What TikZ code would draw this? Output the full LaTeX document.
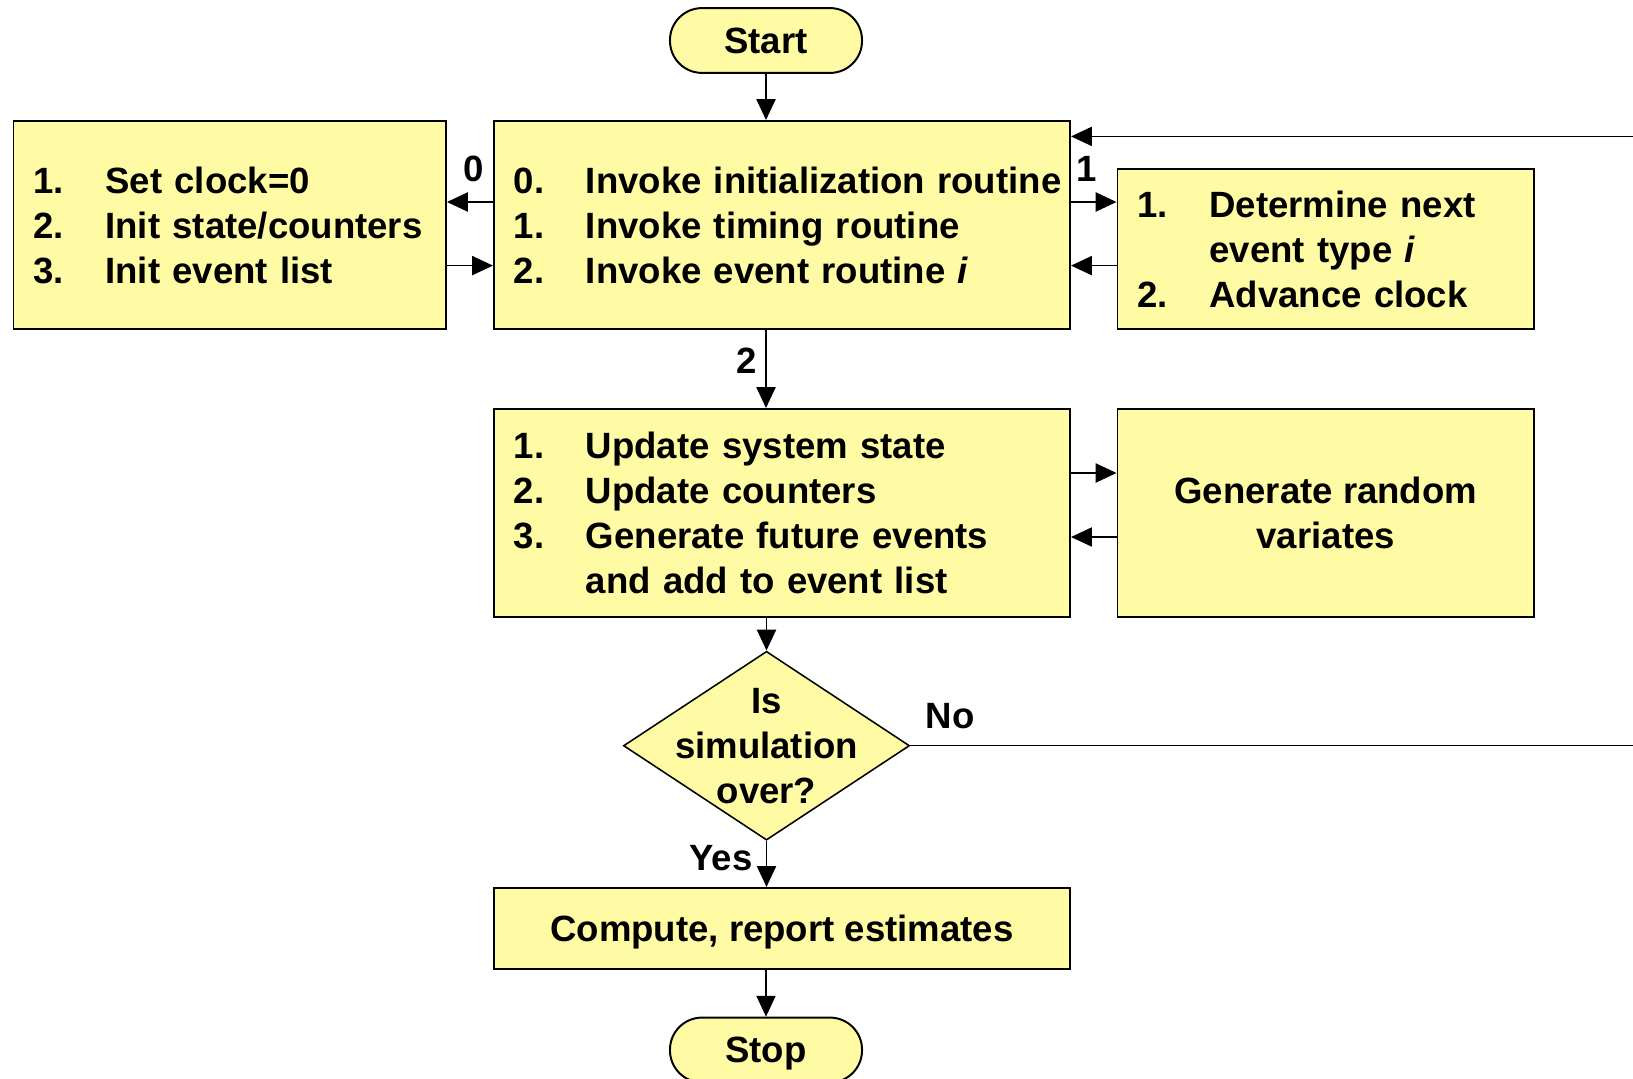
\documentclass[tikz,border=0pt]{standalone}
\usepackage{fontspec}
\setmainfont{Liberation Sans}
\usetikzlibrary{arrows.meta,shapes.geometric}
\definecolor{boxyellow}{RGB}{255,251,165}
\newcommand\itm[2]{\makebox[1.8cm][l]{#1}\mbox{#2}}

\begin{document}
\begin{tikzpicture}[x=0.025cm,y=-0.025cm,
  font=\fontsize{26}{32}\selectfont\bfseries,
  box/.style={draw,line width=1.4pt,fill=boxyellow,inner xsep=0.5cm,inner ysep=0pt},
  terminal/.style={box,rounded corners=0.8cm,minimum width=4.8cm,minimum height=1.62cm},
  decision/.style={draw,line width=1.1pt,fill=boxyellow,diamond,inner sep=0pt,minimum width=7.15cm,minimum height=4.72cm},
  arr/.style={line width=0.9pt,-{Triangle[length=0.52cm,width=0.48cm]}},
  line/.style={line width=0.9pt}]
\useasboundingbox (0,0) rectangle (1633,1079);

% boxes
\node[terminal] (start) at (766,40.5) {Start};
\node[box,align=left,text width=9.81cm,minimum width=10.81cm,minimum height=5.2cm] (init) at (229.75,225)
  {\itm{1.}{Set clock=0}\\\itm{2.}{Init state/counters}\\\itm{3.}{Init event list}};
\node[box,align=left,text width=13.4cm,minimum width=14.4cm,minimum height=5.2cm] (main) at (782,225)
  {\itm{0.}{Invoke initialization routine}\\\itm{1.}{Invoke timing routine}\\\itm{2.}{Invoke event routine \textit{i}}};
\node[box,align=left,text width=9.41cm,minimum width=10.41cm,minimum height=4cm] (timing) at (1325.75,249)
  {\itm{1.}{Determine next}\\\hspace*{1.8cm}event type \textit{i}\\\itm{2.}{Advance clock}};
\node[box,align=left,text width=13.4cm,minimum width=14.4cm,minimum height=5.2cm] (update) at (782,513)
  {\itm{1.}{Update system state}\\\itm{2.}{Update counters}\\\itm{3.}{Generate future events}\\\hspace*{1.8cm}and add to event list};
\node[box,align=center,minimum width=10.41cm,minimum height=5.2cm] (random) at (1325.75,513)
  {Generate random\\variates};
\node[decision] (over) at (766.5,745.7) {};
\node[align=center] (overtext) at (over) {Is\\simulation\\over?};
\node[box,text depth=0pt,minimum width=14.4cm,minimum height=2.03cm] (compute) at (782,928.5) {Compute, report estimates};
\node[terminal,text depth=0pt] (stop) at (766,1050) {Stop};

% loop ends at the right edge
\coordinate (loopin) at (1633,136.4);
\coordinate (loopout) at (1633,745.7);

% connectors
\draw[arr] (start) -- (start |- main.north);
\draw[arr] (main.west |- 0,202) -- (init.east |- 0,202);
\draw[arr] (init.east |- 0,265.6) -- (main.west |- 0,265.6);
\draw[arr] (main.east |- 0,202) -- (timing.west |- 0,202);
\draw[arr] (timing.west |- 0,265.6) -- (main.east |- 0,265.6);
\draw[arr] (loopin) -- (main.east |- loopin);
\draw[arr] (main.south -| start) -- (update.north -| start);
\draw[arr] (update.east |- 0,473) -- (random.west |- 0,473);
\draw[arr] (random.west |- 0,537) -- (update.east |- 0,537);
\draw[arr] (update.south -| over) -- (over.north);
\draw[line] (over.east) -- (loopout);
\draw[arr] (over.south) -- (compute.north -| over);
\draw[arr] (compute.south -| stop) -- (stop.north);

% branch labels
\node (lab0) at (474,169) {0};
\node (lab1) at (1087,169) {1};
\node (lab2) at (747,361) {2};
\node (labno) at (950,716.5) {No};
\node (labyes) at (721,858) {Yes};
\end{tikzpicture}
\end{document}
